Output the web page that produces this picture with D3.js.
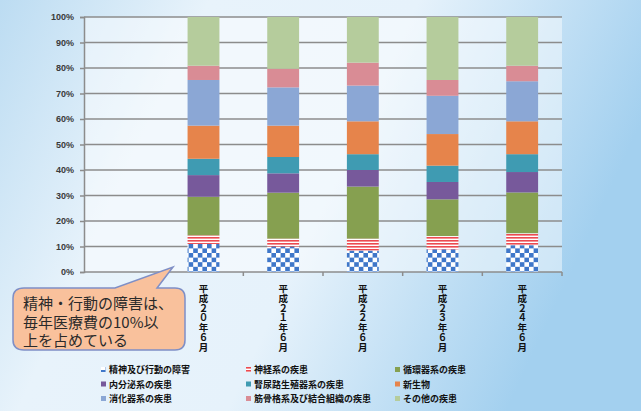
<!DOCTYPE html>
<html>
<head>
<meta charset="utf-8">
<script src="https://cdn.jsdelivr.net/npm/d3@7"></script>
<style>
body { margin: 0; }
svg { display: block; font-family: "Noto Sans CJK JP", sans-serif; }
</style>
</head>
<body>
<div id="div_svg"></div>
<script>
// categories (first slot is empty, the callout sits there)
var categories = ["", "平成２０年６月", "平成２１年６月", "平成２２年６月", "平成２３年６月", "平成２４年６月"];

var seriesNames = ["精神及び行動の障害", "神経系の疾患", "循環器系の疾患",
	"内分泌系の疾患", "腎尿路生殖器系の疾患", "新生物",
	"消化器系の疾患", "筋骨格系及び結合組織の疾患", "その他の疾患"];

// percent values per series, one value per year (H20..H24)
var seishin  = [11.0, 10.0,  8.4,  8.9, 10.5];
var shinkei  = [ 3.4,  3.1,  4.7,  5.2,  4.7];
var junkan   = [15.1, 18.0, 20.4, 14.4, 16.0];
var naibunpi = [ 8.5,  7.6,  6.5,  6.8,  8.0];
var jinnyoro = [ 6.4,  6.4,  6.2,  6.4,  7.0];
var shinsei  = [13.0, 12.3, 12.9, 12.4, 12.9];
var shoka    = [17.9, 15.0, 14.0, 15.0, 15.7];
var kinkotsu = [ 5.6,  7.3,  9.0,  6.2,  6.1];
var sonota   = [19.1, 20.3, 17.9, 24.7, 19.1];

var yTicks = [0, 10, 20, 30, 40, 50, 60, 70, 80, 90, 100];

var colors = ["url(#checker)", "url(#stripes)", "#86a050", "#77599b", "#3f9bb2",
	"#e6844b", "#8ba7d5", "#d98c95", "#b5cc9c"];

var allSeries = [seishin, shinkei, junkan, naibunpi, jinnyoro, shinsei, shoka, kinkotsu, sonota];

var svg = d3.select("#div_svg").append("svg").attr("id", "svg")
		.attr("width", 641).attr("height", 411);

var defs = svg.append("defs");
var bg = defs.append("linearGradient").attr("id", "bg").attr("x1", "0").attr("x2", "1")
		.attr("y1", "0").attr("y2", "0.3");
bg.append("stop").attr("offset", "0").attr("stop-color", "#bcdcf2");
bg.append("stop").attr("offset", "0.3").attr("stop-color", "#e8f3fb");
bg.append("stop").attr("offset", "0.6").attr("stop-color", "#e6f2fb");
bg.append("stop").attr("offset", "1").attr("stop-color", "#a3d0ef");

var checker = defs.append("pattern").attr("id", "checker").attr("patternUnits", "userSpaceOnUse")
		.attr("width", 9.2).attr("height", 9.2);
checker.append("rect").attr("width", 9.2).attr("height", 9.2).attr("fill", "#ffffff");
checker.append("rect").attr("width", 4.6).attr("height", 4.6).attr("fill", "#3f77c9");
checker.append("rect").attr("x", 4.6).attr("y", 4.6).attr("width", 4.6).attr("height", 4.6).attr("fill", "#3f77c9");

var stripes = defs.append("pattern").attr("id", "stripes").attr("patternUnits", "userSpaceOnUse")
		.attr("width", 6).attr("height", 3);
stripes.append("rect").attr("width", 6).attr("height", 3).attr("fill", "#ffffff");
stripes.append("rect").attr("width", 6).attr("height", 1.6).attr("fill", "#ec4a50");

svg.append("rect").attr("width", 641).attr("height", 411).attr("fill", "url(#bg)");

var x = d3.scaleBand().domain(categories).range([84, 562]).padding(0);
var y = d3.scaleLinear().domain([0, 100]).range([272, 17]);

svg.append("rect").attr("x", 84).attr("y", 17).attr("width", 478).attr("height", 255)
		.attr("fill", "#ffffff").attr("opacity", 0.45);

// grid lines
svg.append("g").selectAll("line").data(yTicks).enter().append("line")
		.attr("x1", 84).attr("x2", 562)
		.attr("y1", function(d) { return y(d); }).attr("y2", function(d) { return y(d); })
		.style("stroke", "#8c8c8c").style("stroke-width", 1.5);

// y axis
var yAxis = d3.axisLeft(y).tickValues(yTicks).tickSize(4).tickFormat(function(d) { return d + "%"; });
var gy = svg.append("g").attr("transform", "translate(84,0)").call(yAxis);
gy.select(".domain").attr("stroke", "#8c8c8c").attr("stroke-width", 1.5);
gy.selectAll(".tick line").attr("stroke", "#8c8c8c").attr("stroke-width", 1.5);
gy.selectAll("text").attr("x", -10).style("font-size", "9px").style("font-weight", "bold")
		.style("fill", "#3a3a3a").style("font-family", "'Liberation Sans', sans-serif");

// x tick marks at band boundaries
svg.append("g").selectAll("line").data(categories.slice(1)).enter().append("line")
		.attr("x1", function(d) { return x(d); }).attr("x2", function(d) { return x(d); })
		.attr("y1", 272).attr("y2", 276).style("stroke", "#8c8c8c").style("stroke-width", 1.5);
svg.append("line").attr("x1", 562).attr("x2", 562).attr("y1", 272).attr("y2", 276)
		.style("stroke", "#8c8c8c").style("stroke-width", 1.5);

// stacked bars
var rows = categories.slice(1).map(function(c, i) {
	var r = { cat: c };
	seriesNames.forEach(function(s, j) { r[s] = allSeries[j][i]; });
	return r;
});
var stack = d3.stack().keys(seriesNames)(rows);
var bw = x.bandwidth() * 0.4;

svg.append("g").selectAll("g").data(stack).enter().append("g")
		.attr("fill", function(d, i) { return colors[i]; })
		.selectAll("rect").data(function(d) { return d; }).enter().append("rect")
		.attr("x", function(d) { return x(d.data.cat) + (x.bandwidth() - bw) / 2; })
		.attr("width", bw)
		.attr("y", function(d) { return y(d[1]); })
		.attr("height", function(d) { return y(d[0]) - y(d[1]); });

// vertical category labels, one character per line
categories.slice(1).forEach(function(c) {
	var cx = x(c) + x.bandwidth() / 2;
	svg.append("g").selectAll("text").data(c.split("")).enter().append("text")
			.attr("x", cx).attr("y", function(d, i) { return 292 + i * 9.8; })
			.attr("text-anchor", "middle").style("font-size", "9.5px").style("font-weight", "bold")
			.style("fill", "#111").text(function(d) { return d; });
});

// callout
svg.append("path")
		.attr("d", "M 24 288 L 115 288 L 173 267 L 157 288 L 175 288 Q 185 288 185 298 L 185 340 Q 185 350 175 350 L 24 350 Q 13 350 13 340 L 13 298 Q 13 288 24 288 Z")
		.style("fill", "#f9c19c").style("stroke", "#7f8fc6").style("stroke-width", 1.5);
var calloutLines = ["精神・行動の障害は、", "毎年医療費の10%以", "上を占めている"];
svg.append("g").selectAll("text").data(calloutLines).enter().append("text")
		.attr("x", 23).attr("y", function(d, i) { return 309 + i * 18.5; })
		.style("font-size", "15px").style("fill", "#2a2a2a").text(function(d) { return d; });

// legend 3 x 3
var legX = [101, 246, 395];
var legY = [370, 384.5, 399];
var leg = svg.append("g").selectAll("g").data(seriesNames).enter().append("g")
		.attr("transform", function(d, i) { return "translate(" + legX[i % 3] + "," + legY[Math.floor(i / 3)] + ")"; });
leg.append("rect").attr("x", 0).attr("y", -3).attr("width", 5).attr("height", 5)
		.attr("fill", function(d, i) { return colors[i]; });
leg.append("text").attr("x", 8).attr("y", 3).style("font-size", "9px").style("font-weight", "bold")
		.style("fill", "#111").text(function(d) { return d; });
</script>
</body>
</html>
